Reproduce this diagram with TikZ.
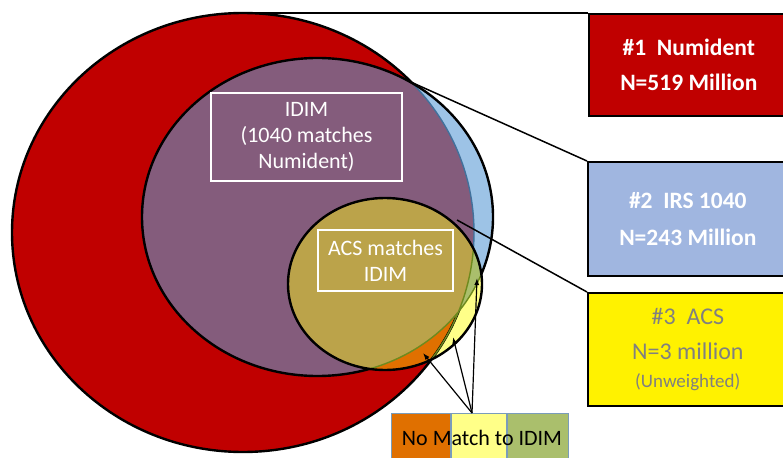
\documentclass[tikz,border=0pt]{standalone}
\usepackage{fontspec}
\setmainfont{Carlito}
\usepackage{xcolor}
\usetikzlibrary{arrows.meta,positioning}

\definecolor{numred}{HTML}{C00000}
\definecolor{irsblue}{HTML}{9DC3E6}
\definecolor{idimpurple}{HTML}{845C7C}
\definecolor{acsolive}{HTML}{BBA34A}
\definecolor{acsorange}{HTML}{E07000}
\definecolor{acsyellow}{HTML}{FFFF88}
\definecolor{acsgreen}{HTML}{AABF6C}
\definecolor{boxblue}{HTML}{A0B6E0}
\definecolor{edgeblue}{HTML}{41719C}
\definecolor{edgegreen}{HTML}{6E8A1E}

% the three sets
\newcommand{\numell}{(243,232.5) ellipse [x radius=231pt, y radius=219.5pt]}
\newcommand{\irsell}{(317.5,217) ellipse [x radius=175.5pt, y radius=159pt]}
\newcommand{\acsell}{(385,284) ellipse [x radius=97pt, y radius=86pt]}
\newcommand{\everything}{(-20,-20) rectangle (810,480)}

\begin{document}
\begin{tikzpicture}[
  x=1pt, y=-1pt,
  font=\fontsize{22}{26}\selectfont,
  outline/.style={draw=black, line width=2.4pt},
  inlabel/.style={draw=white, line width=1.2pt, align=center, text=white, inner sep=0pt},
  sumbox/.style={draw=black, line width=1.6pt, anchor=north west, minimum width=200pt,
                 align=center, inner sep=0pt},
  seg/.style={draw=edgeblue!70, line width=0.8pt, anchor=north west, minimum height=50pt,
              inner sep=0pt},
  link/.style={line width=1.5pt},
  arr/.style={-{Latex[length=7pt,width=5pt]}, line width=1.2pt}
]
\useasboundingbox (0,0) rectangle (783,457);

% fills
\fill[numred] \numell;
\fill[irsblue] \irsell;
\begin{scope}
  \clip \numell;
  \fill[idimpurple] \irsell;
\end{scope}
\fill[acsyellow] \acsell;
\begin{scope}
  \clip \numell;
  \fill[acsorange] \acsell;
\end{scope}
\begin{scope}
  \clip \irsell;
  \fill[acsgreen] \acsell;
\end{scope}
\begin{scope}
  \clip \numell;
  \clip \irsell;
  \fill[acsolive] \acsell;
\end{scope}

% outlines
\begin{scope}[even odd rule]
  \clip \everything \irsell;
  \draw[outline] \numell;
\end{scope}
\begin{scope}
  \clip \irsell;
  \begin{scope}[even odd rule]
    \clip \everything \acsell;
    \draw[edgeblue, line width=1.4pt] \numell;
  \end{scope}
\end{scope}
\begin{scope}[even odd rule]
  \clip \everything \acsell;
  \draw[outline] \irsell;
\end{scope}
\begin{scope}
  \clip \acsell;
  \draw[edgegreen, line width=1.4pt] \numell \irsell;
\end{scope}
\draw[outline] \acsell;

% labels inside the sets
\node[inlabel, minimum width=191pt, minimum height=88pt] (idim) at (306.5,137)
  {IDIM\\(1040 matches\\Numident)};
\node[inlabel, minimum width=135pt, minimum height=61pt] (acsidim) at (385.5,260.5)
  {ACS matches\\IDIM};

% summary boxes
\node[sumbox, fill=numred, minimum height=102pt, text=white,
      font=\fontsize{23.5}{35}\selectfont\bfseries] (num) at (588,13)
  {\#1~~Numident\\N=519 Million};
\node[sumbox, fill=boxblue, minimum height=114pt, text=white,
      font=\fontsize{23.5}{37}\selectfont\bfseries] (irs) at (587,161)
  {\#2~~IRS 1040\\N=243 Million};
\node[sumbox, fill=yellow, minimum height=113pt, text=black!50,
      font=\fontsize{24}{35}\selectfont] (acs) at (587,292)
  {\#3~~ACS\\N=3 million\\[-7pt]{\fontsize{19}{22}\selectfont(Unweighted)}};

\coordinate (numtop) at (250,13);
\coordinate (irstop) at (413,83);
\coordinate (acstop) at (457,220);
\draw[link] (numtop) -- (num.north west);
\draw[link] (irstop) -- (irs.north west);
\draw[link] (acstop) -- (acs.north west);

% no match legend
\node[seg, fill=acsorange, minimum width=59pt] (nmorange) at (391,413) {};
\node[seg, fill=acsyellow, minimum width=55pt, right=0pt of nmorange] (nmyellow) {};
\node[seg, fill=acsgreen, minimum width=61pt, right=0pt of nmyellow] (nmgreen) {};
\node[anchor=base] (nmtext) at (482,445) {No Match to IDIM};

\coordinate (fan) at (472,413);
\coordinate (hitorange) at (423,353);
\coordinate (hityellow) at (453,337);
\coordinate (hitgreen) at (477,278);
\draw[arr] (fan) -- (hitorange);
\draw[arr] (fan) -- (hityellow);
\draw[arr] (fan) -- (hitgreen);
\end{tikzpicture}
\end{document}
